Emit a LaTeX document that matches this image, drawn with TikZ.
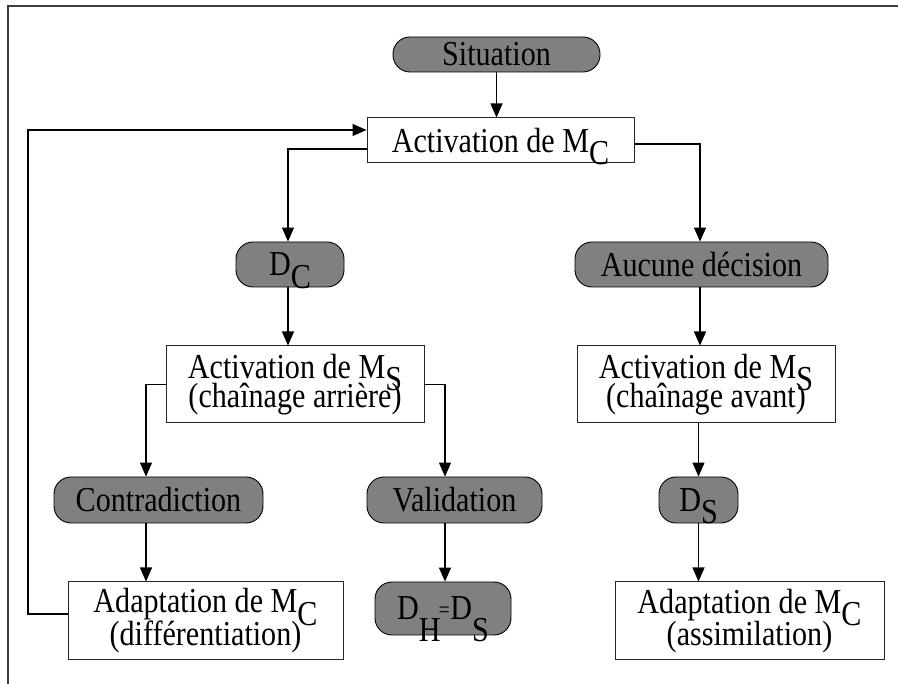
\documentclass[tikz,border=0pt]{standalone}
\usepackage{fontspec}
\setmainfont{Liberation Serif}[FakeStretch=0.86]
\usetikzlibrary{arrows.meta}
\definecolor{pillgray}{RGB}{128,128,128}
\definecolor{framegray}{RGB}{60,60,60}
% subscripts set at full size, lowered below the baseline
\newcommand\lowsub[1]{\raisebox{-0.35em}[0pt][0pt]{#1}}
\newcommand\deepsub[1]{\raisebox{-0.62em}[0pt][0pt]{#1}}

\begin{document}
\begin{tikzpicture}[x=1pt,y=-1pt,
  every node/.style={font=\fontsize{35}{29}\selectfont, inner sep=0pt, align=center},
  pill/.style={draw=black, line width=0.9pt, fill=pillgray, rounded corners=17pt},
  stepbox/.style={draw=black!85, line width=1pt, fill=white},
  arr/.style={draw=black, line width=1.1pt, -{Triangle[length=14pt,width=12pt]}},
  link/.style={draw=black, line width=1.1pt}]
\useasboundingbox (0,0) rectangle (898,684);

% open frame: top and left edges only
\draw[line width=1.8pt, framegray] (8,684) -- (8,6) -- (898,6);

% decision pills
\node[pill, minimum width=207pt, minimum height=35pt] (sit)    at (496.5,54.5) {Situation};
\node[pill, minimum width=108pt, minimum height=45pt] (dc)     at (290,264.5)  {D\lowsub{C}};
\node[pill, minimum width=253pt, minimum height=45pt] (aucune) at (701.5,264.5) {Aucune décision};
\node[pill, minimum width=209pt, minimum height=46pt] (contra) at (158.5,500)  {Contradiction};
\node[pill, minimum width=175pt, minimum height=46pt] (valid)  at (454.5,500)  {Validation};
\node[pill, minimum width=79pt,  minimum height=46pt] (ds)     at (698.5,500)  {D\lowsub{S}};
\node[pill, minimum width=136pt, minimum height=53pt] (dhs)    at (443,608.5)
  {D\deepsub{H}\kern-2pt\raisebox{2.5pt}{\fontsize{23}{23}\selectfont =}\kern0.5pt D\deepsub{S}};

% process boxes
\node[stepbox, minimum width=267pt, minimum height=45pt] (actC) at (500.5,140.5) {Activation de M\lowsub{C}};
\node[stepbox, minimum width=258pt, minimum height=77pt] (msA)  at (295,384.5)
  {Activation de M\lowsub{S}\\(chaînage arrière)};
\node[stepbox, minimum width=258pt, minimum height=77pt] (msV)  at (706,384.5)
  {Activation de M\lowsub{S}\\(chaînage avant)};
\node[stepbox, minimum width=275pt, minimum height=78pt] (adD)  at (205.5,621)
  {Adaptation de M\lowsub{C}\\(différentiation)};
\node[stepbox, minimum width=269pt, minimum height=78pt] (adA)  at (749.5,621)
  {Adaptation de M\lowsub{C}\\(assimilation)};

\coordinate (fb) at (28,400);

% connectors
\draw[arr] (sit.south) -- (sit.south |- actC.north);
\draw[arr] ([yshift=-8.5pt]actC.west) -| ([xshift=-2pt]dc.north);
\draw[arr] ([yshift=-3.5pt]actC.east) -| ([xshift=-1.5pt]aucune.north);
\draw[arr] ([xshift=-2pt]dc.south) -- ([xshift=-2pt]dc.south |- msA.north);
\draw[arr] ([xshift=-1.5pt]aucune.south) -- ([xshift=-1.5pt]aucune.south |- msV.north);
\draw[arr] (msA.west) -| ([xshift=-12.5pt]contra.north);
\draw[arr] (msA.east) -| ([xshift=-9.5pt]valid.north);
\draw[arr] (ds.north |- msV.south) -- (ds.north);
\draw[arr] ([xshift=-12.5pt]contra.south) -- ([xshift=-12.5pt]contra.south |- adD.north);
\draw[arr] ([xshift=-9.5pt]valid.south) -- ([xshift=-9.5pt]valid.south |- dhs.north);
\draw[arr] (ds.south) -- (ds.south |- adA.north);
\draw[arr] ([yshift=7pt]adD.west) -| (fb) |- ([yshift=10.5pt]actC.west);
\end{tikzpicture}
\end{document}
